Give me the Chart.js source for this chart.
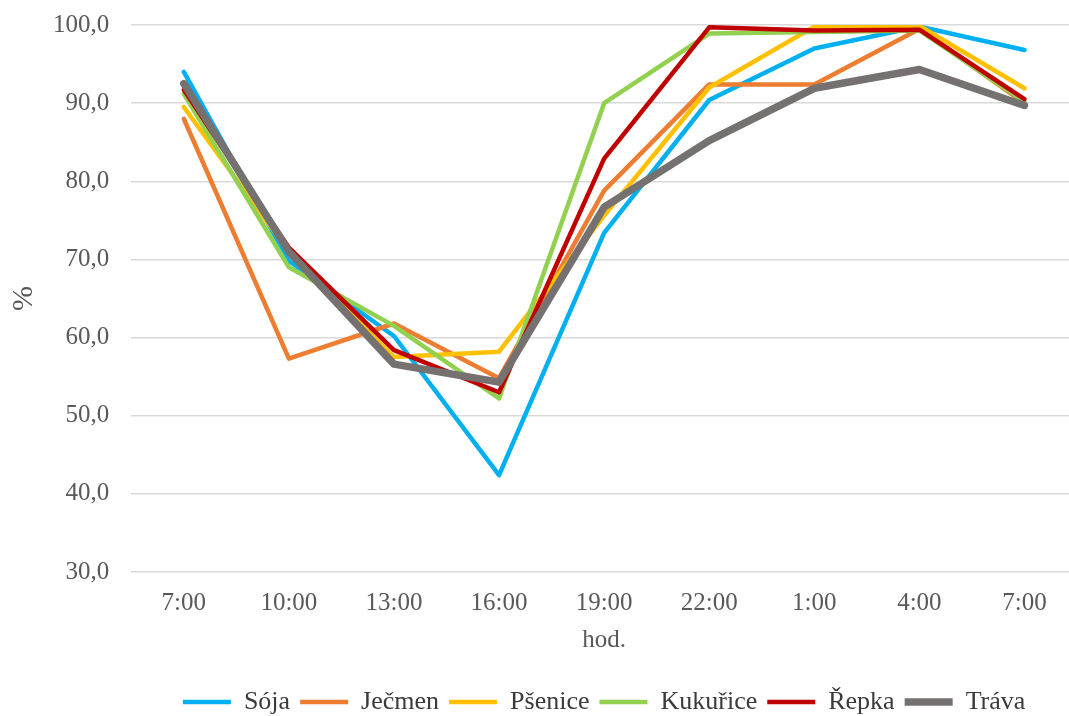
<!DOCTYPE html>
<html>
<head>
<meta charset="utf-8">
<script src="https://cdn.jsdelivr.net/npm/chart.js@4.4.1/dist/chart.umd.min.js"></script>
<style>
  html, body { margin: 0; padding: 0; background: #fff; }
  #wrap { width: 1069px; height: 716px; overflow: hidden; }
  /* the scale reserves label height + tick padding above the top gridline,
     so the canvas is pulled up a little to put 100,0 where Excel has it */
  #chart { display: block; margin-top: -12px; }
</style>
</head>
<body>
<div id="wrap"><canvas id="chart" width="1078" height="737"></canvas></div>
<script>
// hours on the x axis
const hours = ['7:00', '10:00', '13:00', '16:00', '19:00', '22:00', '1:00', '4:00', '7:00'];

// series values, %
const soja     = [94.0, 69.8, 60.2, 42.4, 73.4, 90.4, 97.0, 99.8, 96.8];
const jecmen   = [88.0, 57.3, 61.8, 54.8, 78.8, 92.4, 92.4, 99.5, 90.0];
const psenice  = [89.5, 71.0, 57.5, 58.2, 75.6, 92.0, 99.8, 99.9, 91.9];
const kukurice = [91.2, 69.0, 61.5, 52.2, 90.0, 98.9, 99.1, 99.3, 90.2];
const repka    = [91.7, 71.5, 58.4, 53.0, 82.9, 99.7, 99.3, 99.4, 90.5];
const trava    = [92.5, 71.0, 56.6, 54.3, 76.7, 85.2, 91.9, 94.3, 89.7];

const seriesNames = ['Sója', 'Ječmen', 'Pšenice', 'Kukuřice', 'Řepka', 'Tráva'];
const seriesData = [soja, jecmen, psenice, kukurice, repka, trava];
const seriesColors = ['#00B0F0', '#ED7D31', '#FFC000', '#92D050', '#C00000', '#767171'];

const yTicks = { min: 30, max: 100, step: 10 };

const FONT = "'Liberation Serif', 'Times New Roman', serif";

// Excel centres the legend on the plot area, not on the canvas
const centerLegend = {
    id: 'centerLegend',
    afterLayout(chart) {
        const lg = chart.legend;
        const ca = chart.chartArea;
        if (!lg || !ca) return;
        const shift = (ca.left + ca.right) / 2 - (lg.left + lg.right) / 2;
        lg.left += shift;
        lg.right += shift;
    }
};

const datasets = seriesNames.map((name, i) => ({
    label: name,
    data: seriesData[i],
    borderColor: seriesColors[i],
    backgroundColor: seriesColors[i],
    borderWidth: name === 'Tráva' ? 7.5 : 4.5,
    borderCapStyle: 'round',
    borderJoinStyle: 'round',
    pointRadius: 0,
    pointHoverRadius: 0,
    tension: 0,
    fill: false,
    order: seriesNames.length - i   // later series drawn on top
}));

new Chart(document.getElementById('chart'), {
    type: 'line',
    data: { labels: hours, datasets },
    plugins: [centerLegend],
    options: {
        responsive: false,
        animation: false,
        devicePixelRatio: 1,
        layout: { padding: { left: 0, right: 1, top: 12, bottom: 0 } },
        scales: {
            x: {
                offset: true,
                grid: { display: false, drawTicks: false },
                border: { display: false },
                ticks: {
                    color: '#595959',
                    font: { family: FONT, size: 25 },
                    padding: 16,
                    maxRotation: 0,
                    autoSkip: false
                },
                title: {
                    display: true,
                    text: 'hod.',
                    color: '#595959',
                    font: { family: FONT, size: 25 },
                    // tick padding is counted twice by the scale fit
                    padding: { top: -9, bottom: 24 }
                }
            },
            y: {
                min: yTicks.min,
                max: yTicks.max,
                grid: { color: '#d9d9d9', lineWidth: 1.5, drawTicks: false },
                border: { display: false },
                ticks: {
                    stepSize: yTicks.step,
                    color: '#595959',
                    font: { family: FONT, size: 25 },
                    padding: 22,
                    callback: v => v.toFixed(1).replace('.', ',')
                },
                title: {
                    display: true,
                    text: '%',
                    color: '#595959',
                    font: { family: FONT, size: 30 },
                    padding: { top: 6, bottom: -11 }
                }
            }
        },
        plugins: {
            legend: {
                position: 'bottom',
                labels: {
                    usePointStyle: true,
                    pointStyle: 'line',
                    pointStyleWidth: 48,
                    boxWidth: 48,
                    padding: 10,
                    color: '#3a3a3a',
                    font: { family: FONT, size: 26 },
                    sort: (a, b) => a.datasetIndex - b.datasetIndex
                }
            },
            tooltip: { enabled: false }
        }
    }
});
</script>
</body>
</html>
